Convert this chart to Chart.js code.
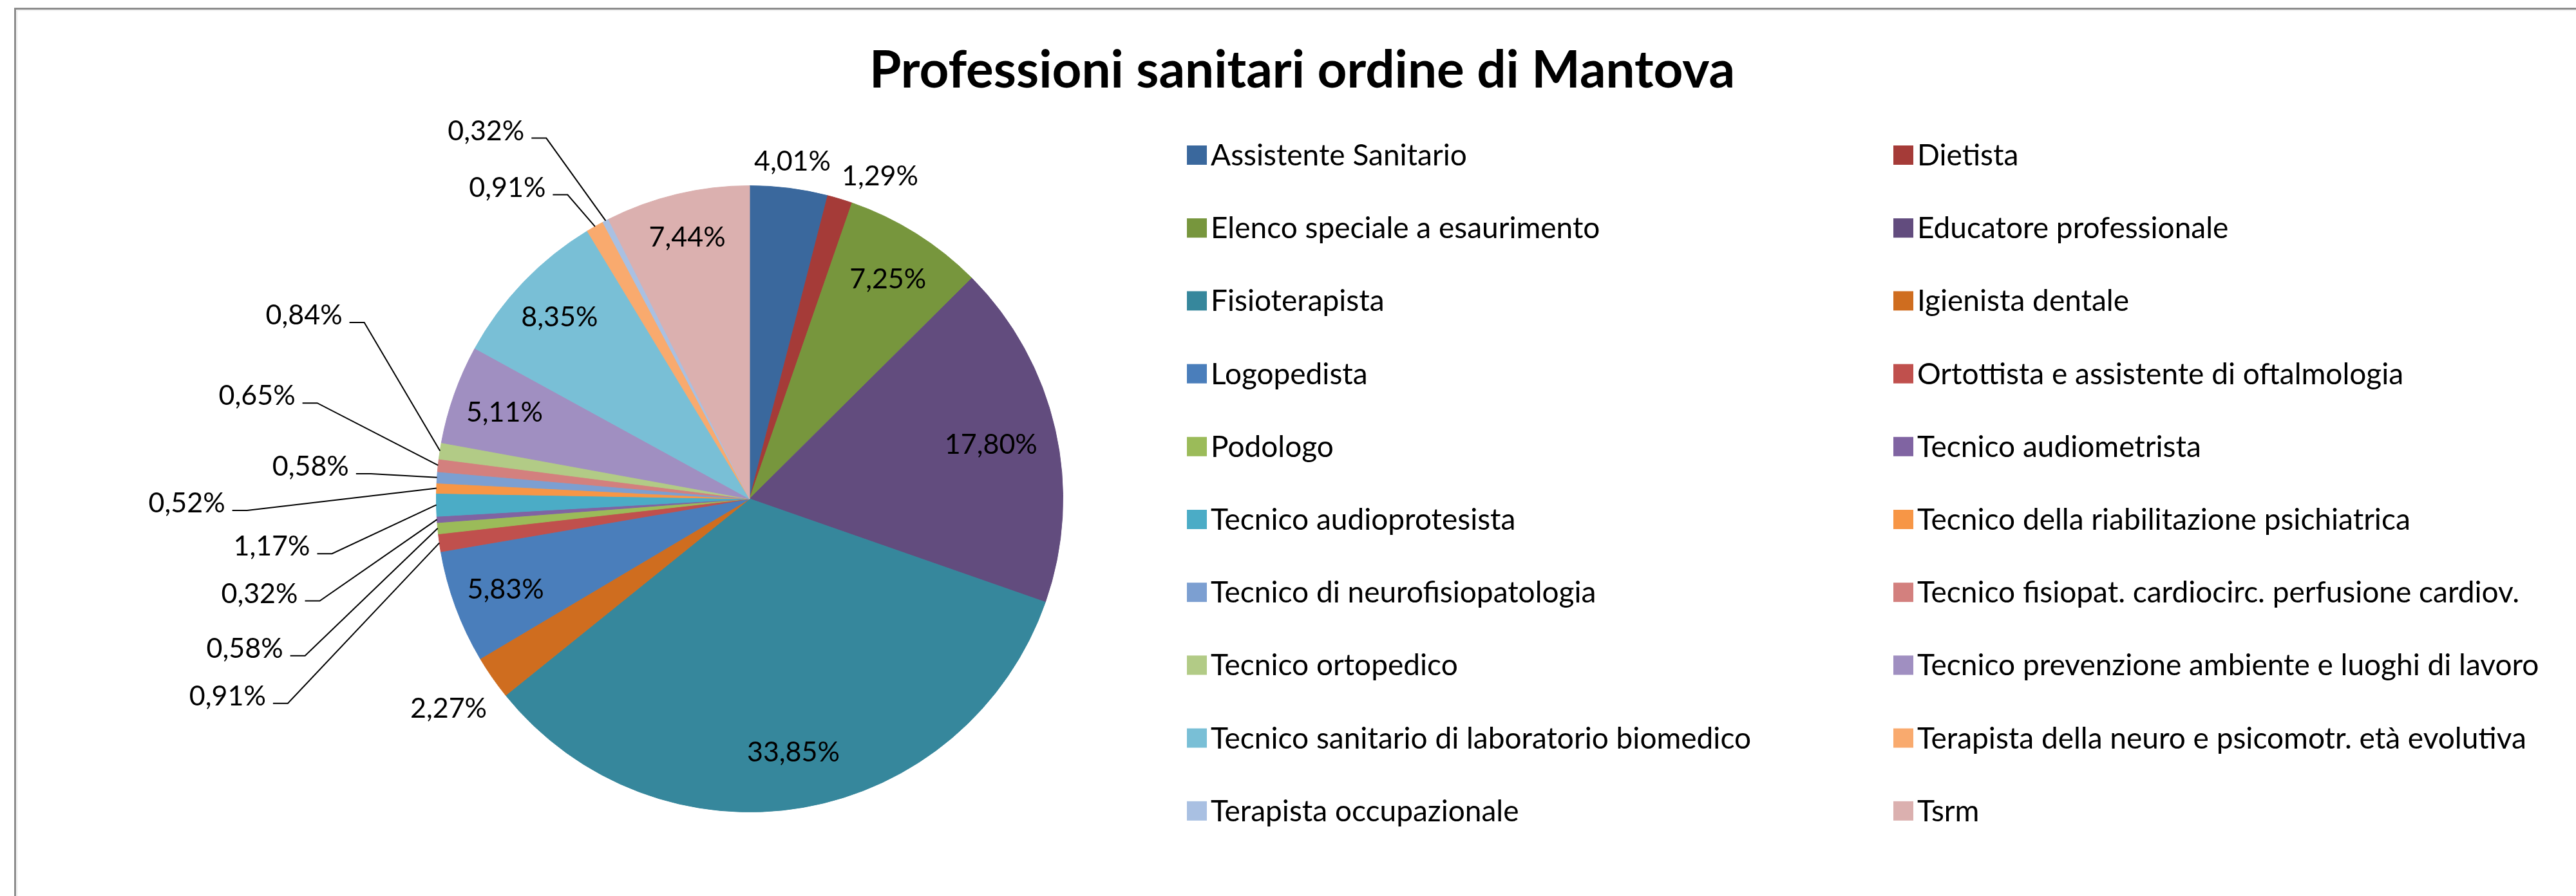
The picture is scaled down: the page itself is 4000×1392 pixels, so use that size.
<!DOCTYPE html>
<html>
<head>
<meta charset="utf-8">
<script src="https://cdn.jsdelivr.net/npm/chart.js@4/dist/chart.umd.min.js"></script>
<style>
  html, body { margin: 0; padding: 0; background: #ffffff; }
  #wrap { width: 4000px; height: 1392px; position: relative; }
  canvas { display: block; }
</style>
</head>
<body>
<div id="wrap"><canvas id="c" width="4000" height="1392"></canvas></div>
<script>
// ---------- data ----------
const chartTitle = 'Professioni sanitari ordine di Mantova';

const categories = [
  'Assistente Sanitario',
  'Dietista',
  'Elenco speciale a esaurimento',
  'Educatore professionale',
  'Fisioterapista',
  'Igienista dentale',
  'Logopedista',
  'Ortottista e assistente di oftalmologia',
  'Podologo',
  'Tecnico audiometrista',
  'Tecnico audioprotesista',
  'Tecnico della riabilitazione psichiatrica',
  'Tecnico di neurofisiopatologia',
  'Tecnico fisiopat. cardiocirc. perfusione cardiov.',
  'Tecnico ortopedico',
  'Tecnico prevenzione ambiente e luoghi di lavoro',
  'Tecnico sanitario di laboratorio biomedico',
  'Terapista della neuro e psicomotr. età evolutiva',
  'Terapista occupazionale',
  'Tsrm'
];

const percentages = [
  4.01, 1.29, 7.25, 17.80, 33.85, 2.27, 5.83, 0.91, 0.58, 0.32,
  1.17, 0.52, 0.58, 0.65, 0.84, 5.11, 8.35, 0.91, 0.32, 7.44
];

const sliceColors = [
  '#3A689D', '#A53B38', '#77963D', '#624C7E', '#36879C',
  '#CF6D1F', '#4A7EBB', '#C0504D', '#9BBB59', '#8064A2',
  '#4BACC6', '#F79646', '#7C9FD1', '#D3807E', '#B2CB86',
  '#A08FC1', '#79BFD6', '#F9AA6E', '#A9C0E2', '#DBB0AF'
];

// ---------- label layout (styling, relative to pie centre / radius) ----------
// mode 'in'  : along mid-angle at factor f of radius
// mode 'out' : along mid-angle (+da degrees) at factor f of radius
// mode 'lead': leader elbow at (ex, ey) in radius units from the centre, text to the left
const labelLayout = [
  {mode: 'out', f: 1.088, da: 0},
  {mode: 'out', f: 1.113, da: 5.2},
  {mode: 'in', f: 0.83},
  {mode: 'in', f: 0.79},
  {mode: 'in', f: 0.82},
  {mode: 'out', f: 1.17, da: 0},
  {mode: 'in', f: 0.83},
  {mode: 'lead', ex: -1.474, ey: 0.653},
  {mode: 'lead', ex: -1.419, ey: 0.501},
  {mode: 'lead', ex: -1.372, ey: 0.326},
  {mode: 'lead', ex: -1.333, ey: 0.175},
  {mode: 'lead', ex: -1.604, ey: 0.037},
  {mode: 'lead', ex: -1.209, ey: -0.080},
  {mode: 'lead', ex: -1.380, ey: -0.306},
  {mode: 'lead', ex: -1.230, ey: -0.563},
  {mode: 'in', f: 0.83},
  {mode: 'in', f: 0.84},
  {mode: 'lead', ex: -0.581, ey: -0.971},
  {mode: 'lead', ex: -0.649, ey: -1.152},
  {mode: 'in', f: 0.86}
];

const FONT = 'Lato, "Open Sans", "DejaVu Sans", sans-serif';

function fmtPct(v) {
  return v.toFixed(2).replace('.', ',') + '%';
}

const decorPlugin = {
  id: 'decor',
  beforeDraw(chart) {
    const ctx = chart.ctx;
    ctx.save();
    ctx.fillStyle = '#ffffff';
    ctx.fillRect(0, 0, chart.width, chart.height);
    // outer frame (only top and left visible)
    ctx.strokeStyle = '#8C8C8C';
    ctx.lineWidth = 3;
    ctx.beginPath();
    ctx.moveTo(chart.width, 13.5);
    ctx.lineTo(23.5, 13.5);
    ctx.lineTo(23.5, chart.height);
    ctx.stroke();
    ctx.strokeStyle = '#E6E6E6';
    ctx.lineWidth = 1;
    ctx.beginPath();
    ctx.moveTo(chart.width, 16.5);
    ctx.lineTo(26.5, 16.5);
    ctx.lineTo(26.5, chart.height);
    ctx.stroke();
    ctx.restore();
  },
  afterDraw(chart) {
    const ctx = chart.ctx;
    const meta = chart.getDatasetMeta(0);
    const values = chart.data.datasets[0].data;
    ctx.save();

    // title
    ctx.fillStyle = '#000000';
    ctx.font = 'bold 80px ' + FONT;
    ctx.textAlign = 'center';
    ctx.textBaseline = 'alphabetic';
    ctx.fillText(chartTitle, 2022, 136);

    // data labels
    ctx.font = '43px ' + FONT;
    ctx.fillStyle = '#000000';
    ctx.strokeStyle = '#000000';
    ctx.lineWidth = 2;
    meta.data.forEach((arc, i) => {
      const p = arc.getProps(['x', 'y', 'startAngle', 'endAngle', 'outerRadius'], true);
      const R = p.outerRadius;
      const mid = (p.startAngle + p.endAngle) / 2;
      const L = labelLayout[i];
      const txt = fmtPct(values[i]);
      if (L.mode === 'in' || L.mode === 'out') {
        const a = mid + (L.mode === 'out' ? L.da * Math.PI / 180 : 0);
        const tx = p.x + Math.cos(a) * R * L.f;
        const ty = p.y + Math.sin(a) * R * L.f;
        ctx.textAlign = 'center';
        ctx.fillText(txt, tx, ty + 15);
      } else {
        const ex = p.x + L.ex * R;
        const ey = p.y + L.ey * R;
        const sx = p.x + Math.cos(mid) * R;
        const sy = p.y + Math.sin(mid) * R;
        ctx.beginPath();
        ctx.moveTo(ex - 23, ey);
        ctx.lineTo(ex, ey);
        ctx.lineTo(sx, sy);
        ctx.stroke();
        ctx.textAlign = 'right';
        ctx.fillText(txt, ex - 34, ey - 12 + 15);
      }
    });

    // legend (two columns, row-major order)
    const colX = [1843, 2940];
    const rowY0 = 241, rowStep = 113.2;
    ctx.font = '46px ' + FONT;
    ctx.textAlign = 'left';
    ctx.textBaseline = 'alphabetic';
    chart.data.labels.forEach((lab, i) => {
      const col = i % 2;
      const row = Math.floor(i / 2);
      const x = colX[col];
      const cy = rowY0 + row * rowStep;
      ctx.fillStyle = chart.data.datasets[0].backgroundColor[i];
      ctx.fillRect(x, cy - 15, 31, 30);
      ctx.fillStyle = '#000000';
      ctx.fillText(lab, x + 37, cy + 16);
    });

    ctx.restore();
  }
};

new Chart(document.getElementById('c'), {
  type: 'pie',
  data: {
    labels: categories,
    datasets: [{
      data: percentages,
      backgroundColor: sliceColors,
      borderColor: sliceColors,
      borderWidth: 1
    }]
  },
  options: {
    responsive: false,
    devicePixelRatio: 1,
    animation: false,
    layout: { padding: { left: 677, right: 2349, top: 288, bottom: 130 } },
    plugins: {
      legend: { display: false },
      title: { display: false },
      tooltip: { enabled: false }
    }
  },
  plugins: [decorPlugin]
});
</script>
</body>
</html>
